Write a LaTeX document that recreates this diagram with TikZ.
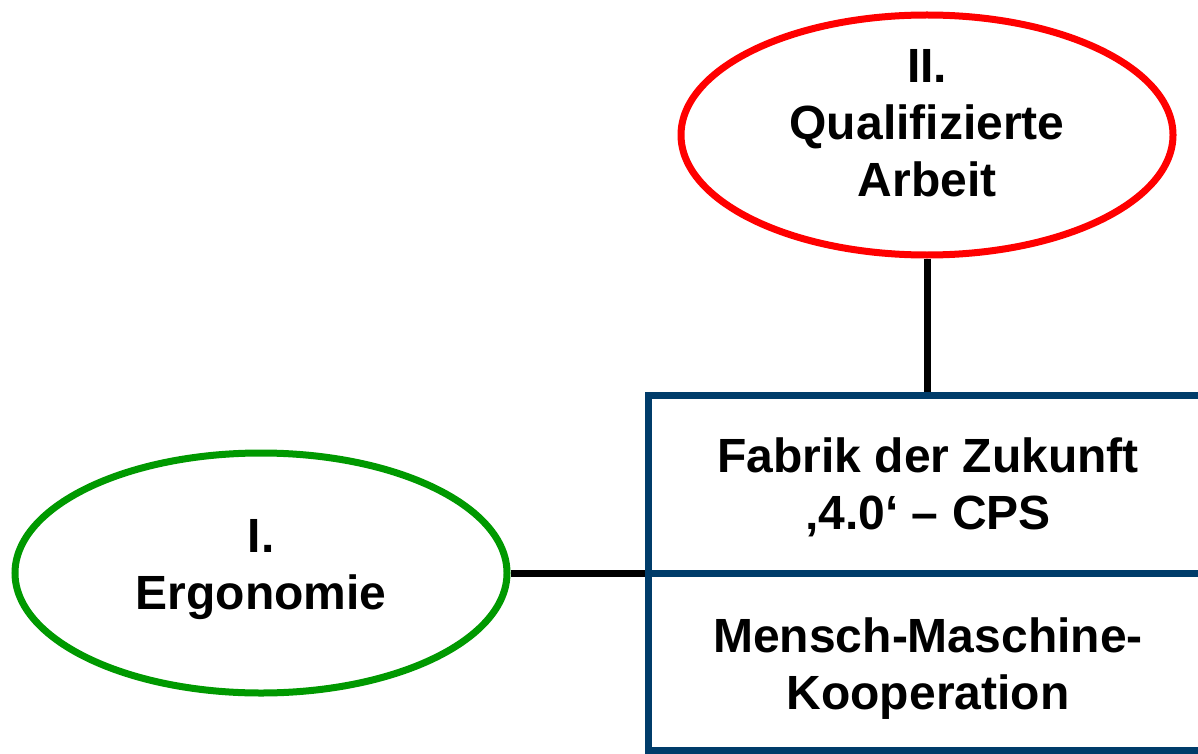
\documentclass[tikz,border=0pt]{standalone}
\usepackage{fontspec}
\setmainfont{Liberation Sans}
\usetikzlibrary{shapes.geometric}
\definecolor{ergogreen}{RGB}{0,153,0}
\definecolor{qared}{RGB}{255,0,0}
\definecolor{boxblue}{RGB}{0,60,106}
\tikzset{
  ovalnode/.style={ellipse, draw, line width=7pt, fill=white, inner sep=0pt,
    minimum width=492pt, minimum height=240pt},
  cellnode/.style={rectangle, draw=boxblue, line width=7pt, inner sep=0pt, outer sep=0pt,
    minimum width=560pt, minimum height=178pt},
  txt/.style={align=center, inner sep=0pt, font=\fontsize{48pt}{57pt}\selectfont\bfseries},
  link/.style={draw=black, line width=7pt}
}
\begin{document}
\begin{tikzpicture}[x=1pt,y=-1pt]
\useasboundingbox (0,0) rectangle (1198,754);
\clip (0,0) rectangle (1198,754);
\fill[white] (0,0) rectangle (1198,754);
% shapes
\node[ovalnode, draw=qared] (qa) at (927,135) {};
\node[ovalnode, draw=ergogreen] (erg) at (261,573) {};
\node[cellnode] (fab) at (928,484) {};
\node[cellnode, minimum height=177pt] (mmk) at (928,661.5) {};
% connectors
\draw[link] (qa.south) -- (qa.south |- fab.north);
\draw[link] (erg.east) -- (erg.east -| fab.south west);
\node[cellnode, fill=none] at (fab) {};
% texts
\node[txt] (qatxt) at (927,123.3) {II.\\Qualifizierte\\Arbeit};
\node[txt] (ergtxt) at (261,570) {I.\\Ergonomie};
\node[txt] (fabtxt) at (928,487.5) {Fabrik der Zukunft\\‚4.0‘ – CPS};
\node[txt] (mmktxt) at (928,669) {Mensch-Maschine-\\Kooperation};
\end{tikzpicture}
\end{document}
